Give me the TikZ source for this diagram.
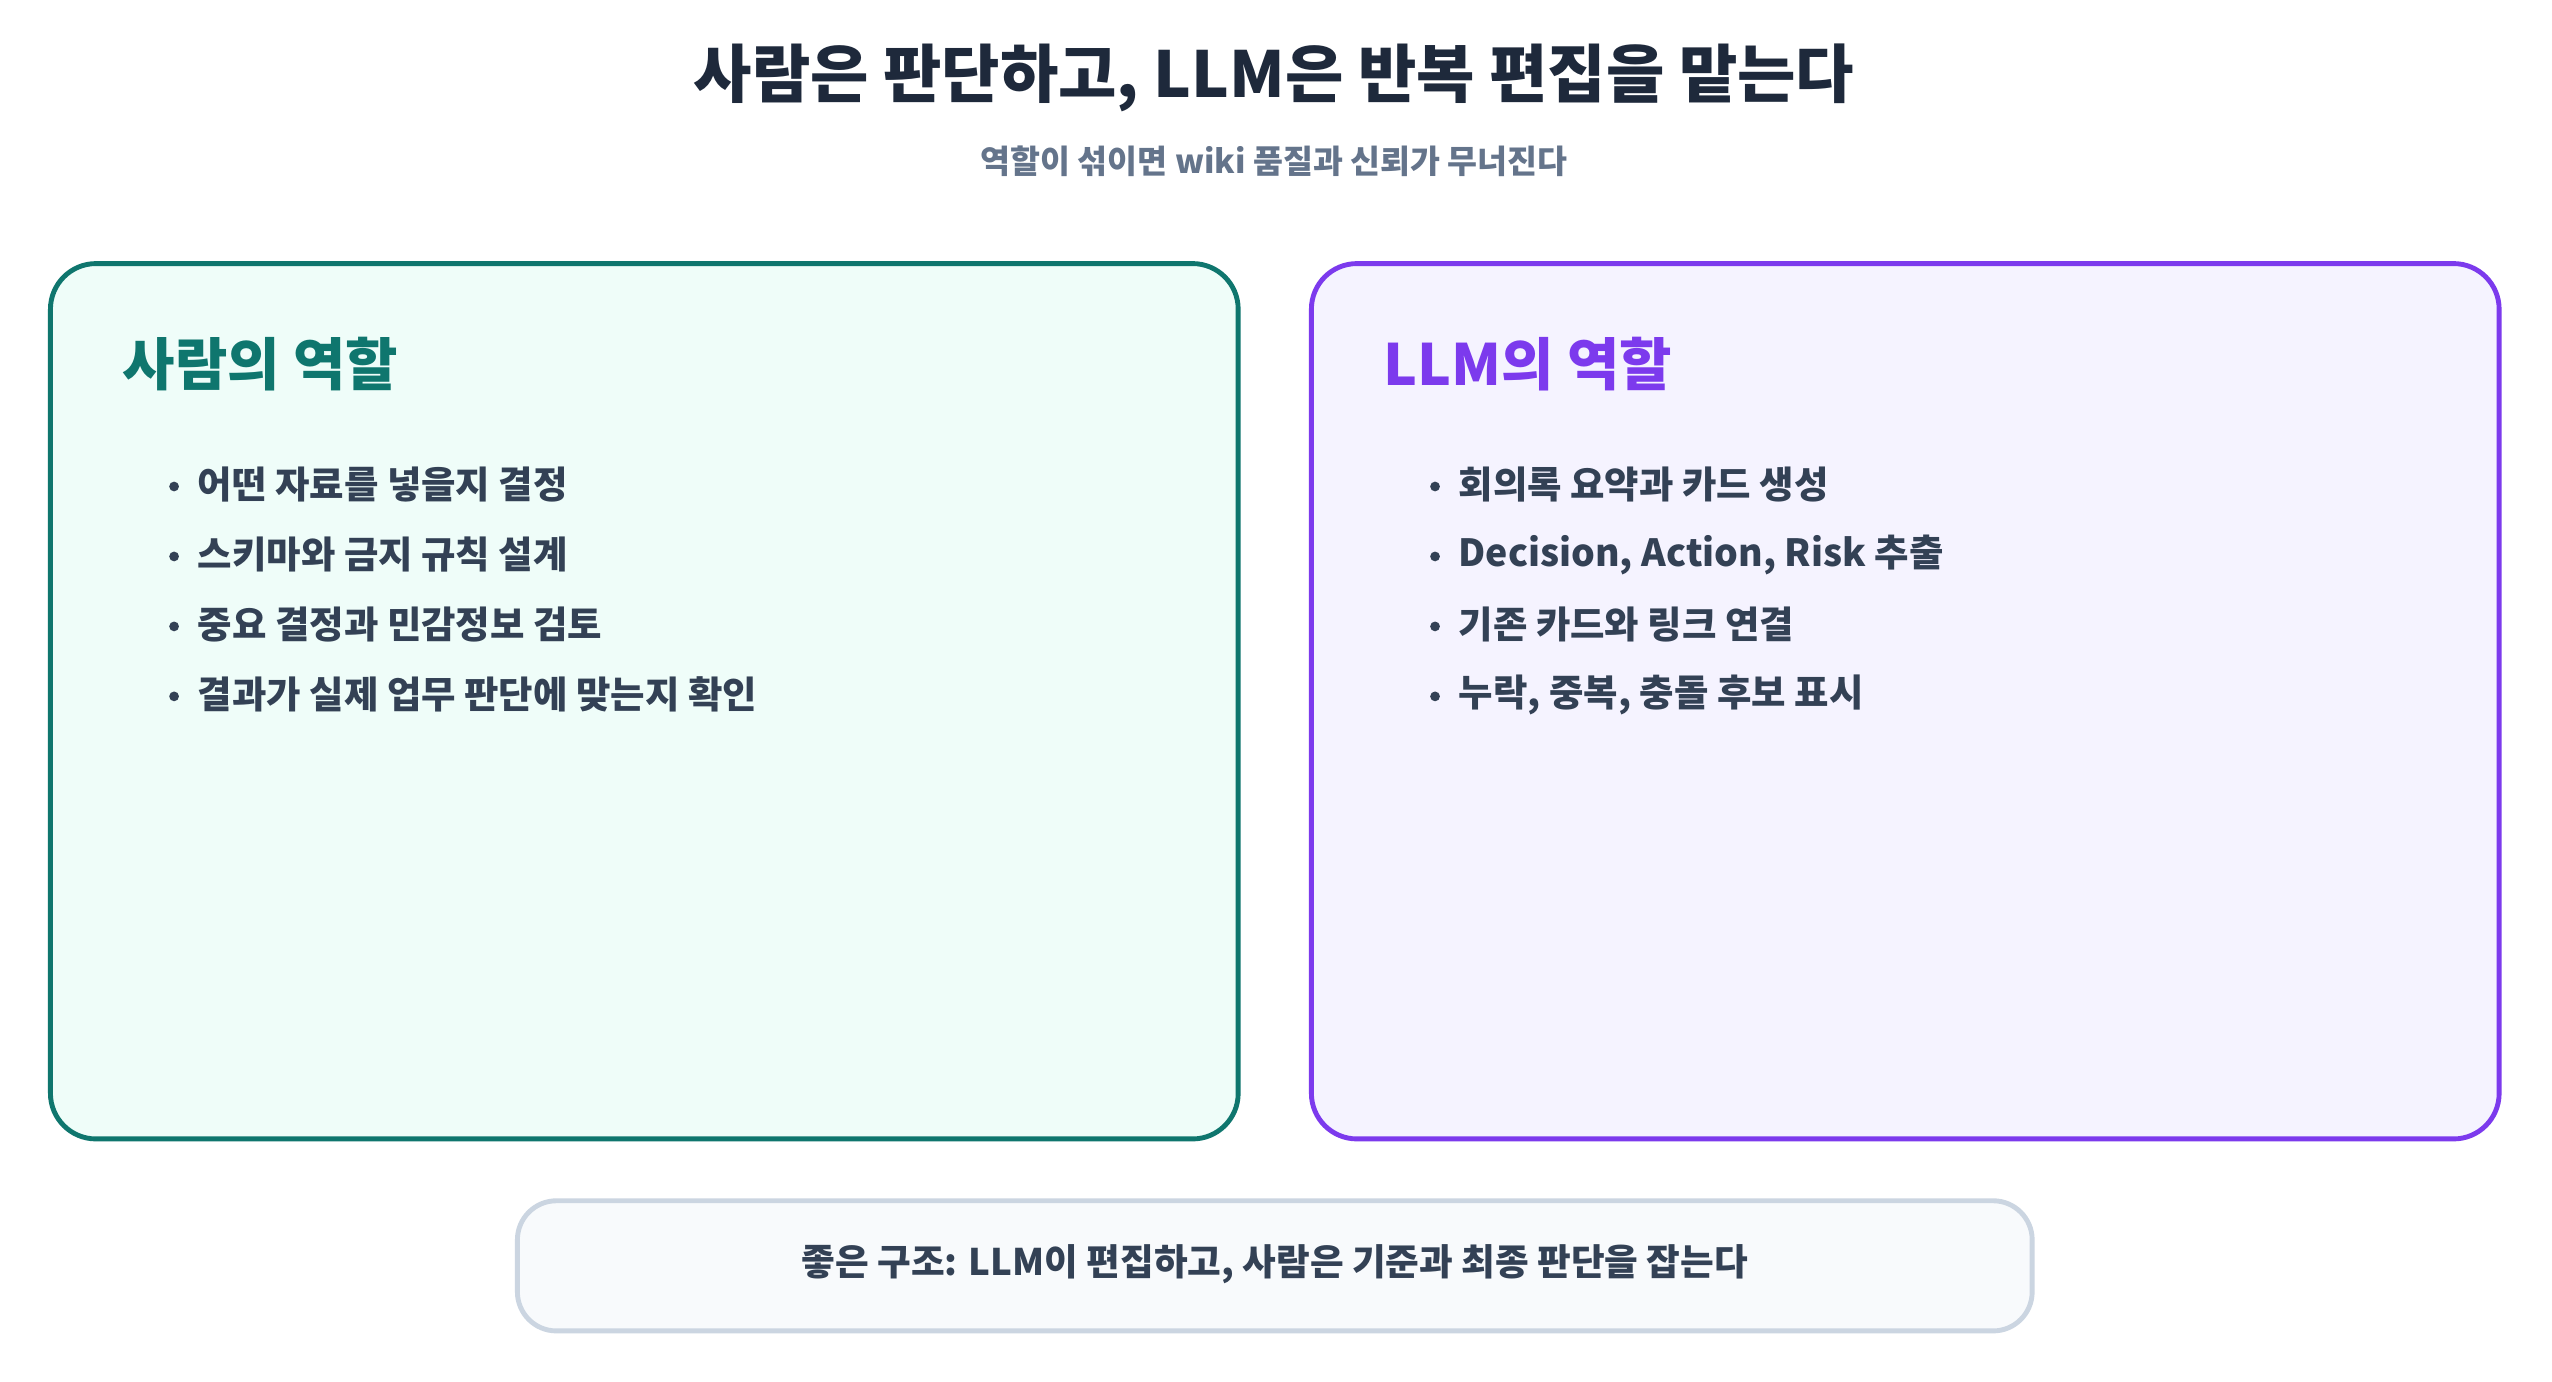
\documentclass[tikz,border=0pt]{standalone}
\usepackage{fontspec}
\setmainfont{Noto Sans CJK KR}
\definecolor{ink}{HTML}{1E293B}
\definecolor{sub}{HTML}{64748B}
\definecolor{body}{HTML}{334155}
\definecolor{teal}{HTML}{0F766E}
\definecolor{tealbg}{HTML}{EFFDF9}
\definecolor{purp}{HTML}{7C3AED}
\definecolor{purpbg}{HTML}{F5F3FF}
\definecolor{grayb}{HTML}{CBD5E1}
\definecolor{graybg}{HTML}{F8FAFC}
\begin{document}
\begin{tikzpicture}[x=1pt,y=-1pt,
  panel/.style={rounded corners=28pt,line width=3pt},
  head/.style={anchor=west,font=\bfseries\fontsize{35}{40}\selectfont},
  item/.style={anchor=west,text=body,font=\bfseries\fontsize{23}{27}\selectfont},
  dot/.style={circle,fill=body,inner sep=0pt,minimum size=6pt}]
\useasboundingbox (0,0) rectangle (1568.5,848.8);
\fill[white] (0,0) rectangle (1568.5,848.8);
\node[text=ink,font=\bfseries\fontsize{39}{44}\selectfont] (title) at (783,48) {사람은 판단하고, LLM은 반복 편집을 맡는다};
\node[text=sub,font=\bfseries\fontsize{20}{24}\selectfont] (subt) at (783,99) {역할이 섞이면 wiki 품질과 신뢰가 무너진다};
\draw[panel,draw=teal,fill=tealbg] (31,162) rectangle (761,700);
\draw[panel,draw=purp,fill=purpbg] (806,162) rectangle (1536,700);
\node[head,text=teal] (lh) at (72,224) {사람의 역할};
\node[head,text=purp] (rh) at (847,224) {LLM의 역할};
\foreach \t [count=\i] in {어떤 자료를 넣을지 결정,스키마와 금지 규칙 설계,중요 결정과 민감정보 검토,결과가 실제 업무 판단에 맞는지 확인}{
  \node[dot] (ld\i) at (107,{298+43*(\i-1)+1}) {};
  \node[item] (l\i) at (118,{298+43*(\i-1)}) {\t};}
\foreach \t [count=\i] in {회의록 요약과 카드 생성,{Decision, Action, Risk 추출},기존 카드와 링크 연결,{누락, 중복, 충돌 후보 표시}}{
  \node[dot] (rd\i) at (882,{298+43*(\i-1)+1}) {};
  \node[item] (r\i) at (893,{298+43*(\i-1)}) {\t};}
\draw[rounded corners=24pt,line width=3pt,draw=grayb,fill=graybg] (318,738) rectangle (1249,818);
\node[text=body,font=\bfseries\fontsize{22.5}{26}\selectfont] (foot) at (783.5,777) {좋은 구조: LLM이 편집하고, 사람은 기준과 최종 판단을 잡는다};
\end{tikzpicture}
\end{document}
